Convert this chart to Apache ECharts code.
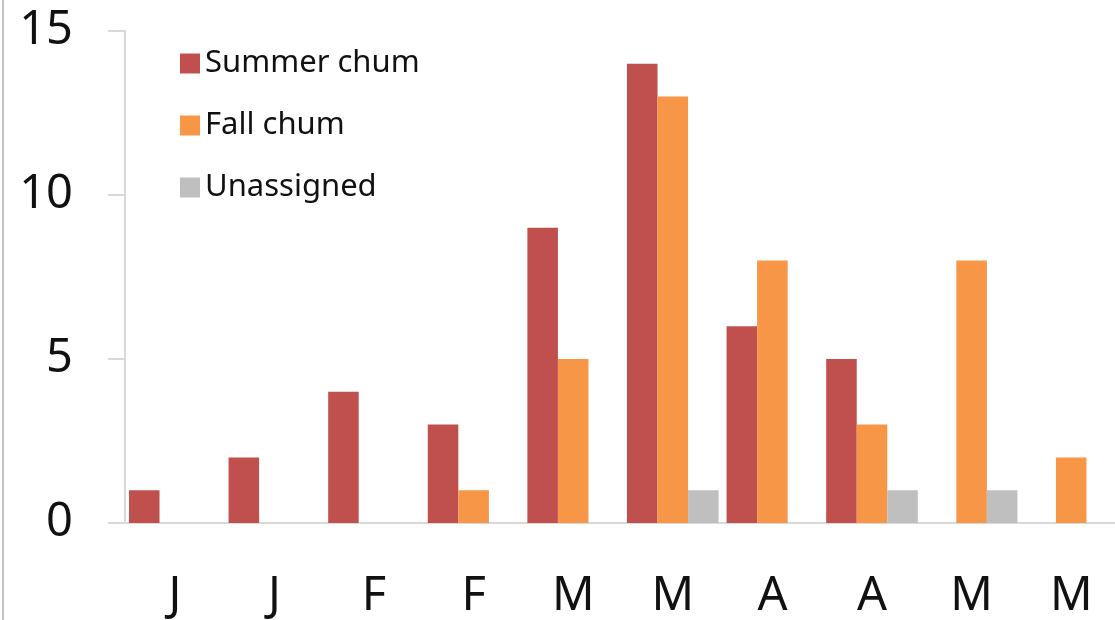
<!DOCTYPE html>
<html><head><meta charset="utf-8">
<script src="https://cdn.jsdelivr.net/npm/echarts@6/dist/echarts.min.js"></script>
<style>html,body{margin:0;padding:0;background:#fff}#c{width:1115px;height:620px}</style>
</head><body><div id="c"></div>
<script>
var categories = ['J','J','F','F','M','M','A','A','M','M'];
var summerChum = [1,2,4,3,9,14,6,5,0,0];
var fallChum = [0,0,0,1,5,13,8,3,8,2];
var unassigned = [0,0,0,0,0,1,0,1,1,0];
var yTicks = [0,5,10,15];

var chart = echarts.init(document.getElementById('c'));
var font = 'Noto Sans';
chart.setOption({
  animation: false,
  backgroundColor: '#fff',
  graphic: [{type:'line', shape:{x1:3,y1:0,x2:3,y2:620}, style:{stroke:'#c4c4c4', lineWidth:2}}],
  legend: {
    orient: 'vertical', left: 175, top: 43,
    itemWidth: 20, itemHeight: 20, itemGap: 31,
    icon: 'rect',
    textStyle: {fontFamily: font, fontSize: 31, color: '#111', padding:[0,0,0,0]},
    data: ['Summer chum','Fall chum','Unassigned']
  },
  grid: {left: 125, width: 996, top: 31, bottom: 97, containLabel: false, outerBoundsMode: 'none'},
  xAxis: {
    type: 'category', data: categories,
    axisLine: {lineStyle: {color: '#d9d9d9', width: 2}},
    axisTick: {show: false},
    axisLabel: {fontFamily: font, fontSize: 47, color: '#111', margin: 50}
  },
  yAxis: {
    type: 'value', min: 0, max: 15, interval: 5,
    axisLine: {show: true, lineStyle: {color: '#d9d9d9', width: 2}},
    axisTick: {show: true, length: 17, lineStyle: {color: '#d9d9d9', width: 2}},
    splitLine: {show: false},
    axisLabel: {fontFamily: font, fontSize: 47, color: '#111', margin: 52,
      formatter: function(v){ return yTicks.indexOf(v) >= 0 ? String(v) : ''; }}
  },
  series: [
    {name:'Summer chum', type:'bar', data: summerChum, barGap: '0%', barCategoryGap: '8%', itemStyle:{color:'#C0504D'}},
    {name:'Fall chum', type:'bar', data: fallChum, barGap: '0%', barCategoryGap: '8%', itemStyle:{color:'#F79646'}},
    {name:'Unassigned', type:'bar', data: unassigned, barGap: '0%', barCategoryGap: '8%', itemStyle:{color:'#BFBFBF'}}
  ]
});
</script></body></html>
